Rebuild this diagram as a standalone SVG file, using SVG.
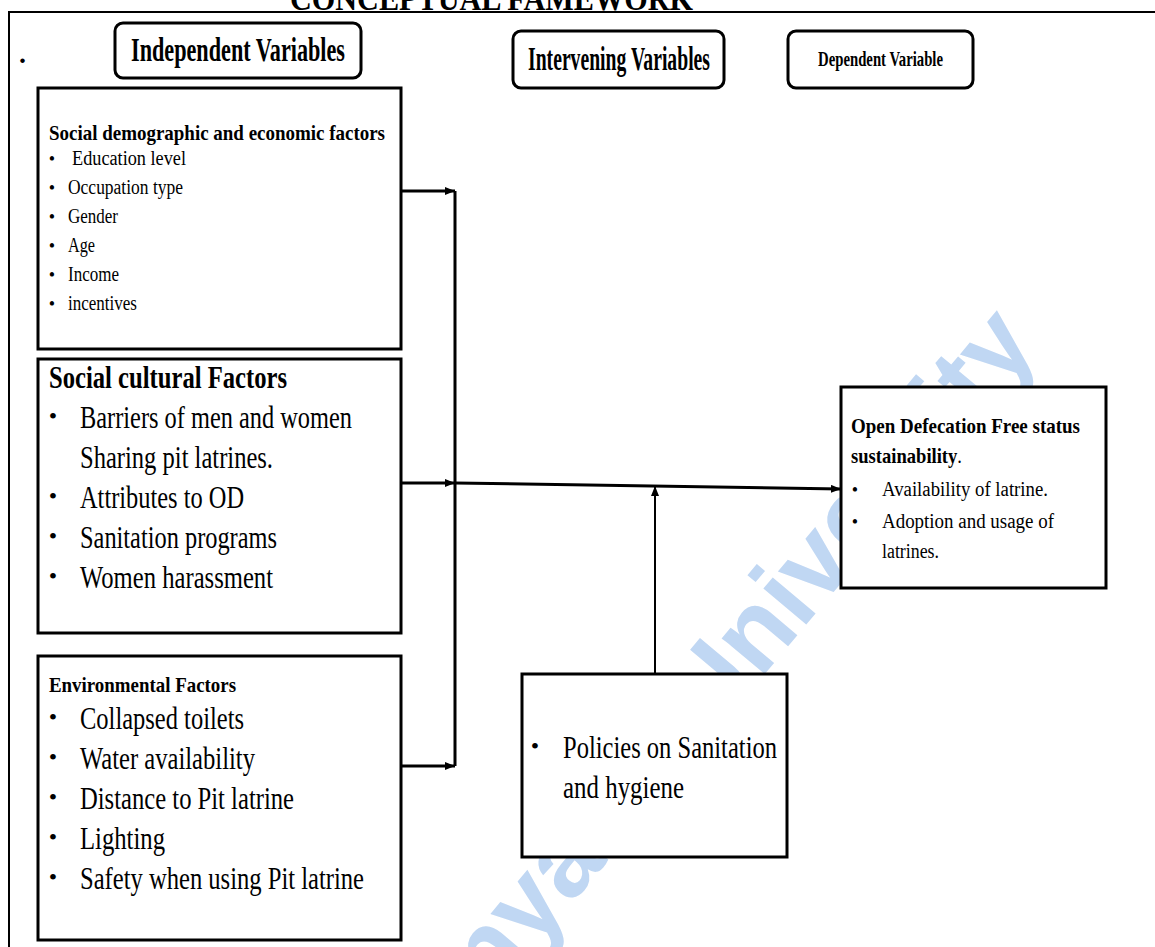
<svg xmlns="http://www.w3.org/2000/svg" width="1155" height="947" viewBox="0 0 1155 947">
<style>
text{font-family:"Liberation Serif","Times New Roman",serif;fill:#000}
.b{font-weight:bold}
.box{fill:#fff;stroke:#000;stroke-width:3}
.hdr{fill:#fff;stroke:#000;stroke-width:3}
.con{fill:none;stroke:#000;stroke-width:3}
.thin{fill:none;stroke:#000;stroke-width:2}
.frame{fill:none;stroke:#000;stroke-width:2}
.wm{font-family:"Liberation Sans",Arial,sans-serif;font-weight:bold;fill:#c0d7f3}
</style>
<defs>
<marker id="ah" markerUnits="userSpaceOnUse" markerWidth="10" markerHeight="8" viewBox="0 0 10 8" refX="10" refY="4" orient="auto">
<path d="M0,0 L10,4 L0,8 z" fill="#000"/>
</marker>
</defs>
<rect width="1155" height="947" fill="#fff"/>
<text class="wm" x="0" y="0" font-size="106" transform="translate(404,1104) rotate(-50)">Kenyatta University</text>
<path class="frame" d="M1155,12 H9 V947"/>
<text class="b" x="290" y="10" font-size="34" textLength="403" lengthAdjust="spacingAndGlyphs">CONCEPTUAL FAMEWORK</text>
<text class="b" x="19" y="63" font-size="28">.</text>

<g id="hdr-independent">
<rect class="hdr" x="115" y="23" width="246" height="55" rx="8"/>
<text class="b" x="131" y="61" font-size="33" textLength="214" lengthAdjust="spacingAndGlyphs">Independent Variables</text>
</g>
<g id="hdr-intervening">
<rect class="hdr" x="513" y="31" width="211" height="57" rx="8"/>
<text class="b" x="528" y="70" font-size="33" textLength="182" lengthAdjust="spacingAndGlyphs">Intervening Variables</text>
</g>
<g id="hdr-dependent">
<rect class="hdr" x="788" y="31" width="185" height="57" rx="8"/>
<text class="b" x="818" y="66" font-size="21" textLength="125" lengthAdjust="spacingAndGlyphs">Dependent Variable</text>
</g>

<g id="socio-demographic">
<rect class="box" x="38" y="88" width="363" height="261"/>
<text class="b" x="49" y="140" font-size="22" textLength="336" lengthAdjust="spacingAndGlyphs">Social demographic and economic factors</text>
<g font-size="18" text-anchor="middle">
<text x="52" y="165">•</text><text x="52" y="194">•</text><text x="52" y="223">•</text><text x="52" y="252">•</text><text x="52" y="281">•</text><text x="52" y="310">•</text>
</g>
<g font-size="20">
<text x="72" y="165" textLength="114" lengthAdjust="spacingAndGlyphs">Education level</text>
<text x="68" y="194" textLength="115" lengthAdjust="spacingAndGlyphs">Occupation type</text>
<text x="68" y="223" textLength="50" lengthAdjust="spacingAndGlyphs">Gender</text>
<text x="68" y="252" textLength="27" lengthAdjust="spacingAndGlyphs">Age</text>
<text x="68" y="281" textLength="51" lengthAdjust="spacingAndGlyphs">Income</text>
<text x="68" y="310" textLength="69" lengthAdjust="spacingAndGlyphs">incentives</text>
</g>
</g>

<g id="socio-cultural">
<rect class="box" x="38" y="359" width="363" height="274"/>
<text class="b" x="49" y="388" font-size="32" textLength="238" lengthAdjust="spacingAndGlyphs">Social cultural Factors</text>
<g font-size="24" text-anchor="middle">
<text x="53" y="424">•</text><text x="53" y="504">•</text><text x="53" y="544">•</text><text x="53" y="584">•</text>
</g>
<g font-size="32">
<text x="80" y="428" textLength="272" lengthAdjust="spacingAndGlyphs">Barriers of men and women</text>
<text x="80" y="468" textLength="193" lengthAdjust="spacingAndGlyphs">Sharing pit latrines.</text>
<text x="80" y="508" textLength="164" lengthAdjust="spacingAndGlyphs">Attributes to OD</text>
<text x="80" y="548" textLength="197" lengthAdjust="spacingAndGlyphs">Sanitation programs</text>
<text x="80" y="588" textLength="193" lengthAdjust="spacingAndGlyphs">Women harassment</text>
</g>
</g>

<g id="environmental">
<rect class="box" x="38" y="656" width="363" height="284"/>
<text class="b" x="49" y="692" font-size="22" textLength="187" lengthAdjust="spacingAndGlyphs">Environmental Factors</text>
<g font-size="24" text-anchor="middle">
<text x="53" y="725">•</text><text x="53" y="765">•</text><text x="53" y="805">•</text><text x="53" y="845">•</text><text x="53" y="885">•</text>
</g>
<g font-size="32">
<text x="80" y="729" textLength="164" lengthAdjust="spacingAndGlyphs">Collapsed toilets</text>
<text x="80" y="769" textLength="175" lengthAdjust="spacingAndGlyphs">Water availability</text>
<text x="80" y="809" textLength="214" lengthAdjust="spacingAndGlyphs">Distance to Pit latrine</text>
<text x="80" y="849" textLength="85" lengthAdjust="spacingAndGlyphs">Lighting</text>
<text x="80" y="889" textLength="284" lengthAdjust="spacingAndGlyphs">Safety when using Pit latrine</text>
</g>
</g>

<g id="policies">
<rect class="box" x="522" y="674" width="265" height="183"/>
<text x="535" y="754" font-size="24" text-anchor="middle">•</text>
<g font-size="32">
<text x="563" y="758" textLength="214" lengthAdjust="spacingAndGlyphs">Policies on Sanitation</text>
<text x="563" y="798" textLength="121" lengthAdjust="spacingAndGlyphs">and hygiene</text>
</g>
</g>

<g id="odf">
<rect class="box" x="841" y="387" width="265" height="201"/>
<text class="b" x="851" y="433" font-size="21" textLength="229" lengthAdjust="spacingAndGlyphs">Open Defecation Free status</text>
<text x="851" y="463" font-size="21" textLength="111" lengthAdjust="spacingAndGlyphs"><tspan class="b">sustainability</tspan>.</text>
<g font-size="18" text-anchor="middle">
<text x="855" y="496">•</text><text x="855" y="528">•</text>
</g>
<g font-size="20">
<text x="882" y="496" textLength="166" lengthAdjust="spacingAndGlyphs">Availability of latrine.</text>
<text x="882" y="528" textLength="172" lengthAdjust="spacingAndGlyphs">Adoption and usage of</text>
<text x="882" y="558" textLength="57" lengthAdjust="spacingAndGlyphs">latrines.</text>
</g>
</g>

<g id="connectors">
<path class="con" d="M455,191 V766"/>
<path class="con" d="M401,191 H455" marker-end="url(#ah)"/>
<path class="con" d="M401,483 H455" marker-end="url(#ah)"/>
<path class="con" d="M401,766 H455" marker-end="url(#ah)"/>
<path class="con" d="M455,483 L841,489" marker-end="url(#ah)"/>
<path class="thin" d="M655,674 V486" marker-end="url(#ah)"/>
</g>
</svg>
